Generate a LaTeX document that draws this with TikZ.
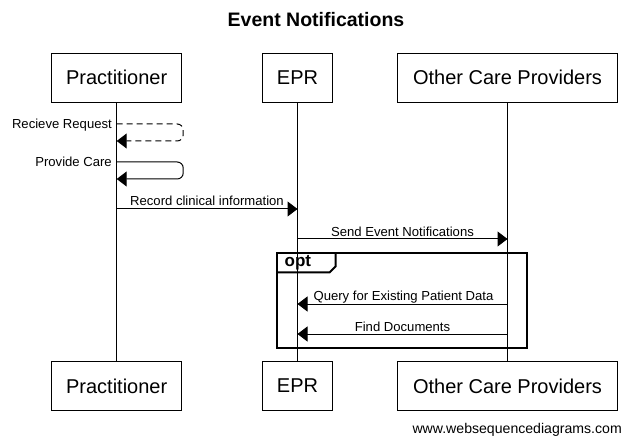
\documentclass[tikz,border=0pt]{standalone}
\usepackage{fontspec}
\setmainfont{Liberation Sans}
\usetikzlibrary{arrows.meta}
\begin{document}
\begin{tikzpicture}[x=1bp,y=-1bp,
  actor/.style={draw=black,line width=1bp,fill=white,minimum height=49bp,inner sep=0pt,font=\fontsize{20bp}{22bp}\selectfont},
  life/.style={line width=1bp},
  msg/.style={line width=1bp,-{Triangle[length=10bp,width=15bp]}},
  lbl/.style={font=\fontsize{13.1bp}{15bp}\selectfont,inner sep=0pt},
  frame/.style={line width=2bp}]
\useasboundingbox (0,0) rectangle (632,445);
% title
\node[font=\bfseries\fontsize{19.5bp}{22bp}\selectfont] (title) at (316,20) {Event Notifications};
% top actors
\node[actor,minimum width=130bp] (pt) at (116.7,77.8) {Practitioner};
\node[actor,minimum width=70bp] (et) at (297.5,77.8) {EPR};
\node[actor,minimum width=220bp] (ot) at (507.5,77.8) {Other Care Providers};
% bottom actors
\node[actor,minimum width=130bp] (pb) at (116.7,386) {Practitioner};
\node[actor,minimum width=70bp] (eb) at (297.5,386) {EPR};
\node[actor,minimum width=220bp] (ob) at (507.5,386) {Other Care Providers};
% lifelines
\draw[life] (pt.south) -- (pb.north);
\draw[life] (et.south) -- (eb.north);
\draw[life] (ot.south) -- (ob.north);
% coordinates on lifelines
\coordinate (p1) at (116.7,124);
\coordinate (p1b) at (116.7,141);
\coordinate (p2) at (116.7,162);
\coordinate (p2b) at (116.7,179);
\coordinate (p3) at (116.7,209);
\coordinate (e3) at (297.5,209);
\coordinate (e4) at (297.5,239);
\coordinate (o4) at (507.5,239);
\coordinate (o5) at (507.5,304);
\coordinate (e5) at (297.5,304);
\coordinate (o6) at (507.5,334);
\coordinate (e6) at (297.5,334);
% self messages
\draw[msg,dash pattern=on 6bp off 4bp,rounded corners=6bp] (p1) -- ++(66.5,0) |- (p1b);
\node[lbl,anchor=east] (l1) at (112,125) {Recieve Request};
\draw[msg,rounded corners=6bp] (p2) -- ++(66.5,0) |- (p2b);
\node[lbl,anchor=east] (l2) at (112,162) {Provide Care};
% messages
\draw[msg] (p3) -- (e3);
\node[lbl] (l3) at (207,201) {Record clinical information};
\draw[msg] (e4) -- (o4);
\node[lbl] (l4) at (402.5,231.5) {Send Event Notifications};
% opt frame
\draw[frame] (277.3,253.5) rectangle (526.7,347.5);
\draw[frame] (277.3,272.5) -- (329.5,272.5) -- (335.5,266.5) -- (335.5,253.5);
\node[font=\bfseries\fontsize{17bp}{19bp}\selectfont,anchor=west,inner sep=0pt] (opt) at (284.5,263) {opt};
\draw[msg] (o5) -- (e5);
\node[lbl] (l5) at (403.5,297) {Query for Existing Patient Data};
\draw[msg] (o6) -- (e6);
\node[lbl] (l6) at (402.5,327) {Find Documents};
% footer
\node[font=\fontsize{14.1bp}{16bp}\selectfont,anchor=east,inner sep=0pt] (web) at (622,430) {www.websequencediagrams.com};
\end{tikzpicture}
\end{document}
